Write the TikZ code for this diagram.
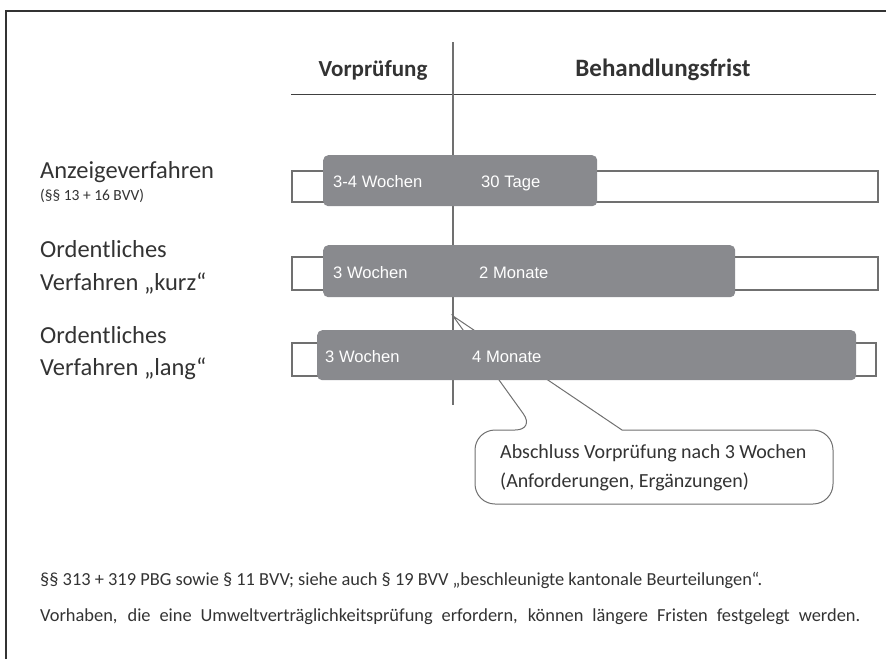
\documentclass[tikz,border=0pt]{standalone}
\usepackage{fontspec}
\setmainfont{Carlito}
\newfontfamily\arialfont{Liberation Sans}
\usepackage{tikz}
\usetikzlibrary{arrows.meta}

\definecolor{bargray}{HTML}{898A8E}
\definecolor{linegray}{HTML}{707070}
\definecolor{txtgray}{HTML}{333333}

\tikzset{
  bar/.style={fill=bargray, rounded corners=5pt, inner sep=0pt, anchor=north west},
  track/.style={draw=linegray, line width=2.6pt},
  bartext/.style={text=white, font=\arialfont\fontsize{16.6}{18}\selectfont, anchor=base west, inner sep=0pt},
  rowlabel/.style={text=txtgray, font=\fontsize{24.5}{26}\selectfont, anchor=base west, inner sep=0pt},
  head/.style={text=txtgray, font=\bfseries\fontsize{23}{26}\selectfont, anchor=base, inner sep=0pt},
  notetext/.style={text=txtgray, font=\fontsize{20}{29}\selectfont, anchor=base west, inner sep=0pt},
  foot/.style={text=txtgray, font=\fontsize{18.4}{20}\selectfont, anchor=base west, inner sep=0pt}
}

\begin{document}
\begin{tikzpicture}[x=1pt, y=-1pt]
        \useasboundingbox (0,0) rectangle (886,659);
        % Rahmen
        \draw[line width=1.2pt, black!80] (6,659) -- (6,11) -- (886,11);
        % Kopfzeile
        \coordinate (vtop) at (453,42);
        \coordinate (vbot) at (453,405);
        \coordinate (hl) at (291,94);
        \coordinate (hr) at (876,94);
        \node[head] (vor) at (373,76) {Vorprüfung};
        \node[head, font=\bfseries\fontsize{25}{26}\selectfont] (beh) at (663,76) {Behandlungsfrist};
        \draw[line width=0.9pt, black!75] (hl) -- (hr);
        % vertikale Linie
        \draw[linegray, line width=1.4pt] (vtop) -- (vbot);
        % Sprechblase (hinter den Balken)
        \coordinate (tip) at (453,316);
        \draw[linegray, line width=1pt, fill=white] (535,430) -- (tip) -- (622,430)
            [rounded corners=20pt] -- (833,430) -- (833,504) -- (475,504) -- (475,430) -- cycle;
        \node[notetext] (note1) at (500,458) {Abschluss Vorprüfung nach 3 Wochen};
        \node[notetext] (note2) at (500,487) {(Anforderungen, Ergänzungen)};
        % Leisten
        \draw[track] (292,171) rectangle (878,202);
        \draw[track] (292,257) rectangle (878,290);
        \draw[track] (292,343) rectangle (876,376);
        % Balken
        \node[bar, minimum width=274pt, minimum height=51pt] (bar1) at (323,155) {};
        \node[bar, minimum width=412pt, minimum height=52pt] (bar2) at (323,245) {};
        \node[bar, minimum width=539pt, minimum height=50pt] (bar3) at (317,330) {};
        % Balkentexte
        \node[bartext] (w1) at (333,187) {3-4 Wochen};
        \node[bartext] (t1) at (481,187) {30 Tage};
        \node[bartext] (w2) at (333,278) {3 Wochen};
        \node[bartext] (t2) at (479,278) {2 Monate};
        \node[bartext] (w3) at (325,362) {3 Wochen};
        \node[bartext] (t3) at (472,362) {4 Monate};
        % Verfahren
        \node[rowlabel] (anz) at (40,178) {Anzeigeverfahren};
        \node[rowlabel, font=\fontsize{15.5}{17}\selectfont] (anzp) at (40,200) {(§§ 13 + 16 BVV)};
        \node[rowlabel] (ord1) at (40,257) {Ordentliches};
        \node[rowlabel] (kurz) at (40,290) {Verfahren „kurz“};
        \node[rowlabel] (ord2) at (40,343) {Ordentliches};
        \node[rowlabel] (lang) at (40,375) {Verfahren „lang“};
        % Fussnoten
        \node[foot] (f1) at (40,585) {§§ 313 + 319 PBG sowie § 11 BVV; siehe auch § 19 BVV „beschleunigte kantonale Beurteilungen“.};
        \node[foot] (f2) at (40,621) {\makebox[820pt][s]{Vorhaben, die eine Umweltverträglichkeitsprüfung erfordern, können längere Fristen festgelegt werden.}};
\end{tikzpicture}
\end{document}
